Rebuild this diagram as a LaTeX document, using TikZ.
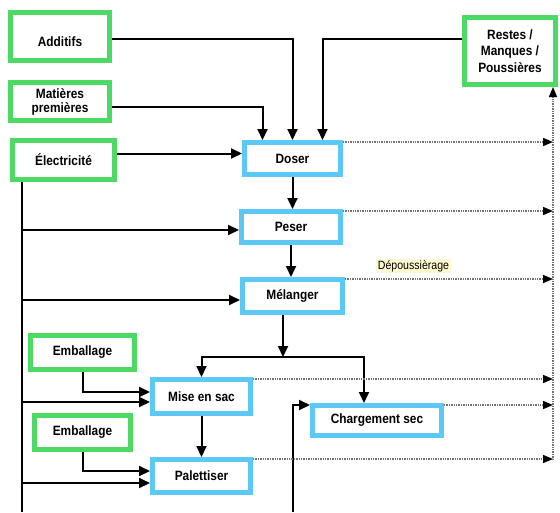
\documentclass[tikz,border=0pt]{standalone}
\usepackage{fontspec}
\setmainfont{Liberation Sans}[FakeStretch=0.88]
\usetikzlibrary{arrows.meta}
\definecolor{vert}{RGB}{76,217,100}
\definecolor{bleu}{RGB}{91,200,245}
\definecolor{jaune}{RGB}{255,249,210}

\begin{document}
\begin{tikzpicture}[x=1pt, y=-1pt, >={Triangle[length=11pt,width=10pt]},
                    line width=2pt,
                    entree/.style={draw=vert, line width=5pt, fill=white, inner sep=0pt, align=center,
                                   font=\bfseries\fontsize{13.5}{14}\selectfont},
                    etape/.style={draw=bleu, line width=5pt, fill=white, inner sep=0pt, align=center,
                                  font=\bfseries\fontsize{13.5}{14}\selectfont},
                    flux/.style={->},
                    rejet/.style={-{Triangle[length=10pt,width=8pt,color=black]}, densely dotted,
                                  draw=black!55, line width=1.4pt}]

                    \useasboundingbox (0,0) rectangle (560,512);

                    \node[entree, minimum width=99pt, minimum height=48pt, text height=20pt, text depth=0pt] (additifs) at (60,36.5) {Additifs};
                    \node[entree, minimum width=99pt, minimum height=38pt] (matieres) at (60,101.5) {Matières\\premières};
                    \node[entree, minimum width=102pt, minimum height=39pt] (elec) at (63.5,160) {Électricité};
                    \node[entree, minimum width=91pt, minimum height=67pt, font=\bfseries\fontsize{13.5}{16.5}\selectfont] (restes) at (510,51) {Restes /\\Manques /\\Poussières};
                    \node[entree, minimum width=104pt, minimum height=34pt] (emb1) at (82.5,352.5) {Emballage};
                    \node[entree, minimum width=96pt, minimum height=34pt] (emb2) at (82.5,432.5) {Emballage};

                    \node[etape, minimum width=96pt, minimum height=32pt] (doser) at (292.5,158.5) {Doser};
                    \node[etape, minimum width=99pt, minimum height=31pt] (peser) at (291,227) {Peser};
                    \node[etape, minimum width=100pt, minimum height=33pt] (melanger) at (292.5,296) {Mélanger};
                    \node[etape, minimum width=98pt, minimum height=34pt] (sac) at (201.5,396.5) {Mise en sac};
                    \node[etape, minimum width=98pt, minimum height=33pt] (palett) at (201.5,476) {Palettiser};
                    \node[etape, minimum width=129pt, minimum height=30pt] (charg) at (377,420.5) {Chargement sec};

                    \node[fill=jaune, inner sep=1.5pt, font=\fontsize{12}{13}\selectfont] (depous) at (413.5,266) {Dépoussièrage};

                    \coordinate (bus) at (22,512);
                    \coordinate (bus2) at (293,512);
                    \coordinate (split) at (283,357);
                    \coordinate (collect) at (553,460);

                    \draw[flux] ([yshift=-2.5pt]additifs.east) -| (doser.north);
                    \draw[flux] ([yshift=-5.5pt]matieres.east) -| ([xshift=-30pt]doser.north);
                    \draw[flux] ([yshift=12pt]restes.west) -| ([xshift=30pt]doser.north);
                    \draw[flux] ([yshift=5pt]doser.west -| elec.east) -- ([yshift=5pt]doser.west);

                    \draw (bus |- elec.south) -- (bus);
                    \draw[flux] ([yshift=-3pt]peser.west -| bus) -- ([yshift=-3pt]peser.west);
                    \draw[flux] ([yshift=-4pt]melanger.west -| bus) -- ([yshift=-4pt]melanger.west);
                    \draw[flux] ([yshift=-5.5pt]sac.west -| bus) -- ([yshift=-5.5pt]sac.west);
                    \draw[flux] ([yshift=-7pt]palett.west -| bus) -- ([yshift=-7pt]palett.west);
                    \draw[flux] (emb1.south) |- ([yshift=4.5pt]sac.west);
                    \draw[flux] (emb2.south) |- ([yshift=5pt]palett.west);

                    \draw[flux] (doser.south) -- (doser.south |- peser.north);
                    \draw[flux] (peser.south) -- (peser.south |- melanger.north);
                    \draw[flux] (melanger.south -| split) -- (split);
                    \draw[flux] (split) -| (sac.north);
                    \draw[flux] (split) -| ([xshift=-13pt]charg.north);
                    \draw[flux] (sac.south) -- (palett.north);
                    \draw[flux] (bus2) |- ([yshift=-2pt]charg.north west);

                    \foreach \n in {doser, peser, melanger, sac, charg, palett}
                        \draw[rejet] ([yshift=-2pt]\n.north east) -- ([yshift=-2pt]\n.north east -| collect);
                    \draw[rejet] (collect) -- (collect |- restes.south);
                \end{tikzpicture}
\end{document}
